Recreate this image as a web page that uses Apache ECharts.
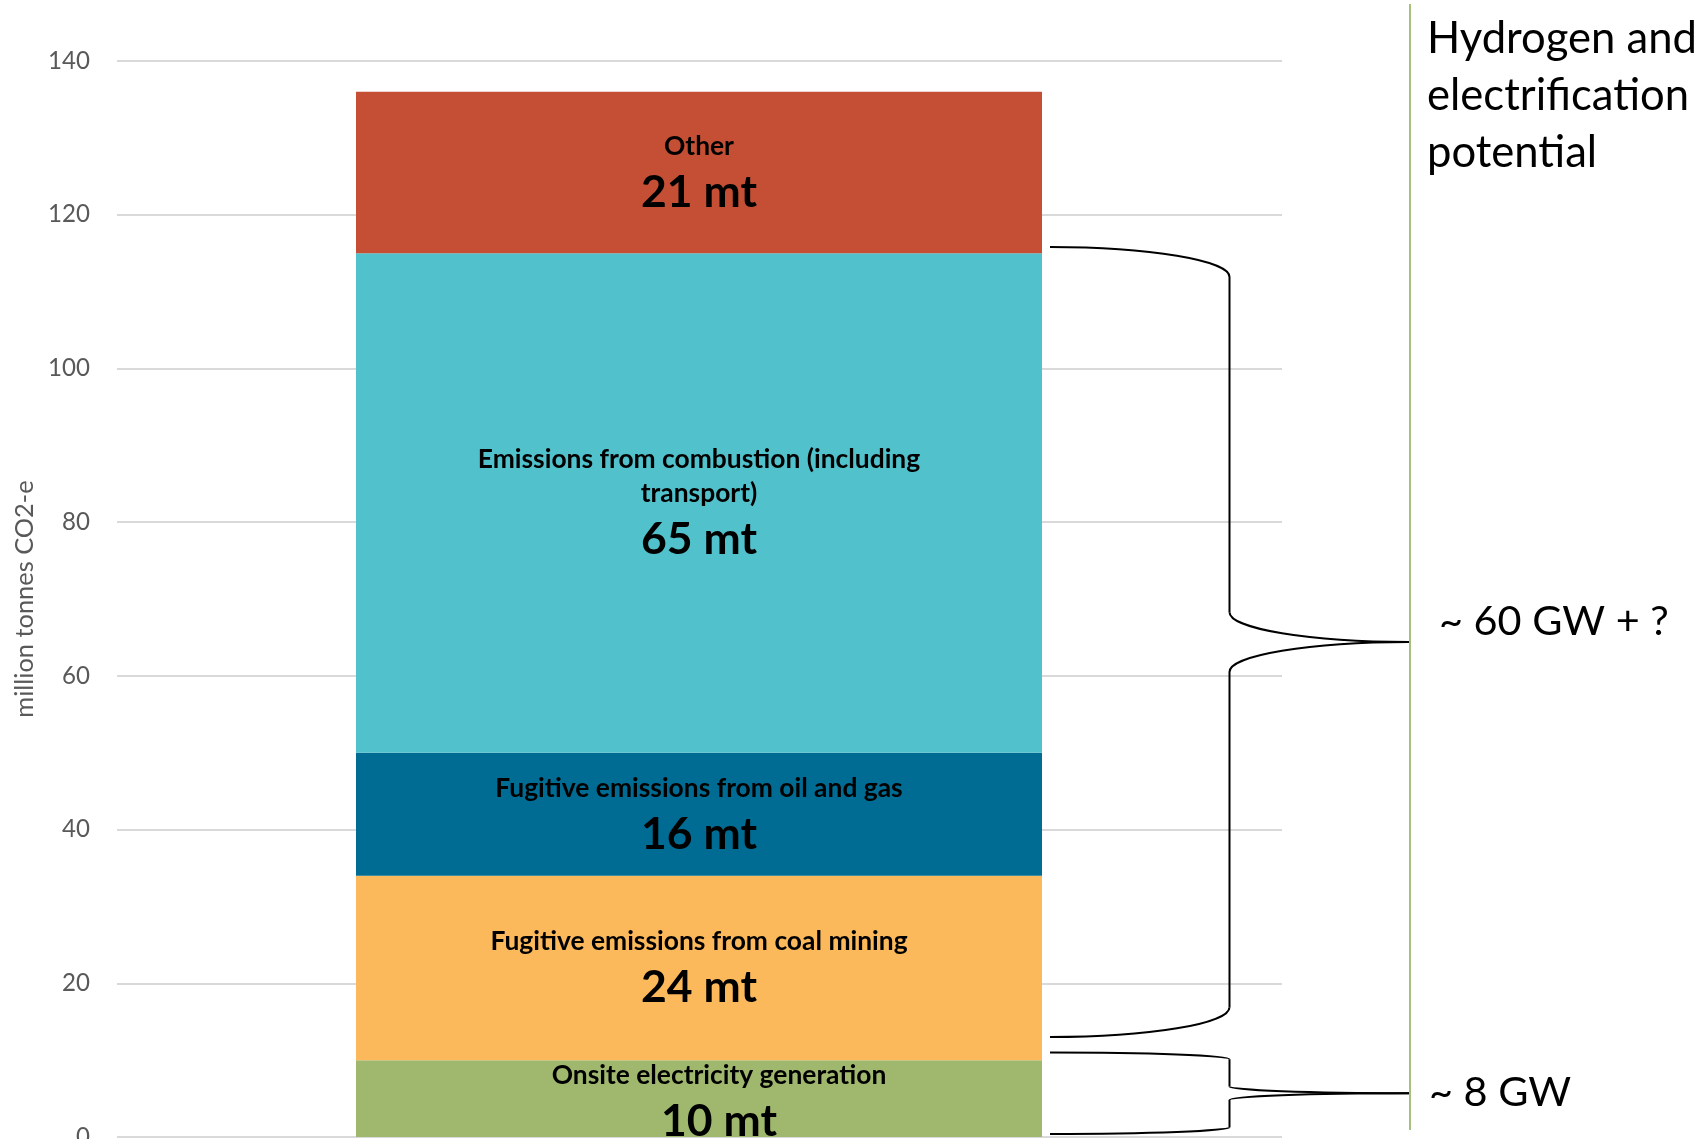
<!DOCTYPE html>
<html><head><meta charset="utf-8">
<script src="https://cdn.jsdelivr.net/npm/echarts@6/dist/echarts.min.js"></script>
<style>html,body{margin:0;padding:0;background:#fff;overflow:hidden}#c{width:1706px;height:1139px}</style>
</head><body><div id="c"></div>
<script>
// ---- data ----
const category = ['Total'];
const segmentNames = ['Onsite electricity generation', 'Fugitive emissions from coal mining', 'Fugitive emissions from oil and gas', 'Emissions from combustion (including\ntransport)', 'Other'];
const segmentValues = [10, 24, 16, 65, 21];
const segmentColors = ['#A0B86E', '#FBB95C', '#006C93', '#51C1CC', '#C44F35'];
const yMin = 0, yMax = 140, yInterval = 20;
const yName = 'million tonnes CO2-e';
const sideTitle = 'Hydrogen and\nelectrification\npotential';
const bracketFrom = [13, 0.4];
const bracketTo = [115.8, 11];
const bracketText = ['~ 60 GW + ?', '~ 8 GW'];

// ---- font fitting (Calibri-like widths) ----
const FAMILY = 'Lato';
const ctx = document.createElement('canvas').getContext('2d');
function fit(text, weight, target) {
  ctx.font = weight + ' 100px ' + FAMILY;
  return Math.round(1000 * target / ctx.measureText(text).width) / 10;
}
const nameSize = fit('Fugitive emissions from coal mining', 'bold', 417);
const valSize = fit('21 mt', 'bold', 116);
const sideSize = fit('Hydrogen and', 'normal', 270);
const gwSize = fit('~ 60 GW + ?', 'normal', 230);
const tickSize = fit('140', 'normal', 42);
const yNameSize = fit(yName, 'normal', 237);

const W = 1706, H = 1139;
const gridTop = 61, gridBottom = 2;
const barLeft = 356, barRight = 1042;
const gridLeft = 117, gridRight = 1282;
const lineX = 1410;

const chart = echarts.init(document.getElementById('c'), null, {renderer: 'canvas'});

const option = {
  backgroundColor: '#fff',
  animation: false,
  textStyle: {fontFamily: FAMILY},
  grid: [
    {left: gridLeft, right: W - gridRight, top: gridTop, bottom: gridBottom, outerBoundsMode: 'none', containLabel: false},
    {left: barLeft, right: W - barRight, top: gridTop, bottom: gridBottom, outerBoundsMode: 'none', containLabel: false}
  ],
  xAxis: [
    {type: 'category', gridIndex: 0, data: [''], show: false},
    {type: 'category', gridIndex: 1, data: category, show: false}
  ],
  yAxis: [
    {
      type: 'value', gridIndex: 0, min: yMin, max: yMax, interval: yInterval,
      axisLine: {show: false}, axisTick: {show: false},
      axisLabel: {color: '#595959', fontSize: tickSize, fontFamily: FAMILY, margin: 27},
      splitLine: {show: true, lineStyle: {color: '#D9D9D9', width: 2}},
      name: yName, nameLocation: 'middle', nameGap: 80,
      nameTextStyle: {color: '#595959', fontSize: yNameSize, fontFamily: FAMILY}
    },
    {type: 'value', gridIndex: 1, min: yMin, max: yMax, interval: yInterval, show: false, splitLine: {show: false}}
  ],
  series: segmentValues.map((v, i) => ({
    type: 'bar', name: segmentNames[i], stack: 'total',
    xAxisIndex: 1, yAxisIndex: 1, barWidth: '100%',
    data: [v],
    itemStyle: {color: segmentColors[i]},
    label: {
      show: true, position: 'inside',
      offset: i === 0 ? [20, 6] : [0, 3],
      formatter: () => segmentNames[i].split('\n').map(s => '{n|' + s + '}').join('\n') + '\n{v|' + v + ' mt}',
      rich: {
        n: {fontSize: nameSize, fontWeight: 'bold', color: '#000', lineHeight: 34, fontFamily: FAMILY, align: 'center'},
        v: {fontSize: valSize, fontWeight: 'bold', color: '#000', lineHeight: 58, fontFamily: FAMILY, align: 'center'}
      }
    }
  }))
};
chart.setOption(option);

// ---- annotations (braces, divider, side text) ----
const yPx = v => chart.convertToPixel({yAxisIndex: 0}, v);
const x0 = barRight + 8, x2 = lineX - 1, x1 = (x0 + x2) / 2;
const K = 0.5523;
const braceStyle = {fill: null, stroke: '#000', lineWidth: 2};
function curve(ax, ay, c1x, c1y, c2x, c2y, bx, by) {
  return {type: 'bezierCurve', shape: {x1: ax, y1: ay, cpx1: c1x, cpy1: c1y, cpx2: c2x, cpy2: c2y, x2: bx, y2: by}, style: braceStyle, z: 10};
}
function seg(ax, ay, bx, by) {
  return {type: 'line', shape: {x1: ax, y1: ay, x2: bx, y2: by}, style: braceStyle, z: 10};
}
function brace(yTop, yBot) {
  const rx = x1 - x0, rx2 = x2 - x1;
  const ry = Math.min(x2 - x0, yBot - yTop) * 0.0833;
  const yM = (yTop + yBot) / 2;
  return [
    curve(x0, yTop, x0 + K * rx, yTop, x1, yTop + ry - K * ry, x1, yTop + ry),
    seg(x1, yTop + ry, x1, yM - ry),
    curve(x1, yM - ry, x1, yM - ry + K * ry, x2 - K * rx2, yM, x2, yM),
    curve(x2, yM, x2 - K * rx2, yM, x1, yM + ry - K * ry, x1, yM + ry),
    seg(x1, yM + ry, x1, yBot - ry),
    curve(x1, yBot - ry, x1, yBot - ry + K * ry, x0 + K * rx, yBot, x0, yBot)
  ];
}
const textOffsets = [[1439 - lineX, -20], [1429 - lineX, -1]];
let graphics = [];
bracketFrom.forEach((f, i) => {
  const yTop = yPx(bracketTo[i]), yBot = yPx(f);
  graphics = graphics.concat(brace(yTop, yBot));
  graphics.push({type: 'text', x: lineX + textOffsets[i][0], y: (yTop + yBot) / 2 + textOffsets[i][1],
    style: {text: bracketText[i], fontSize: gwSize, fontFamily: FAMILY, fill: '#000', verticalAlign: 'middle', align: 'left'}, z: 10});
});
graphics.push({type: 'line', shape: {x1: lineX, y1: 4, x2: lineX, y2: 1130}, style: {stroke: '#A6C17A', lineWidth: 2}, z: 10});
graphics.push({type: 'text', x: 1427, y: 10, style: {text: sideTitle, fontSize: sideSize, fontFamily: FAMILY, fill: '#000', lineHeight: 57, verticalAlign: 'top', align: 'left'}, z: 10});
chart.setOption({graphic: graphics});
</script>
</body></html>
